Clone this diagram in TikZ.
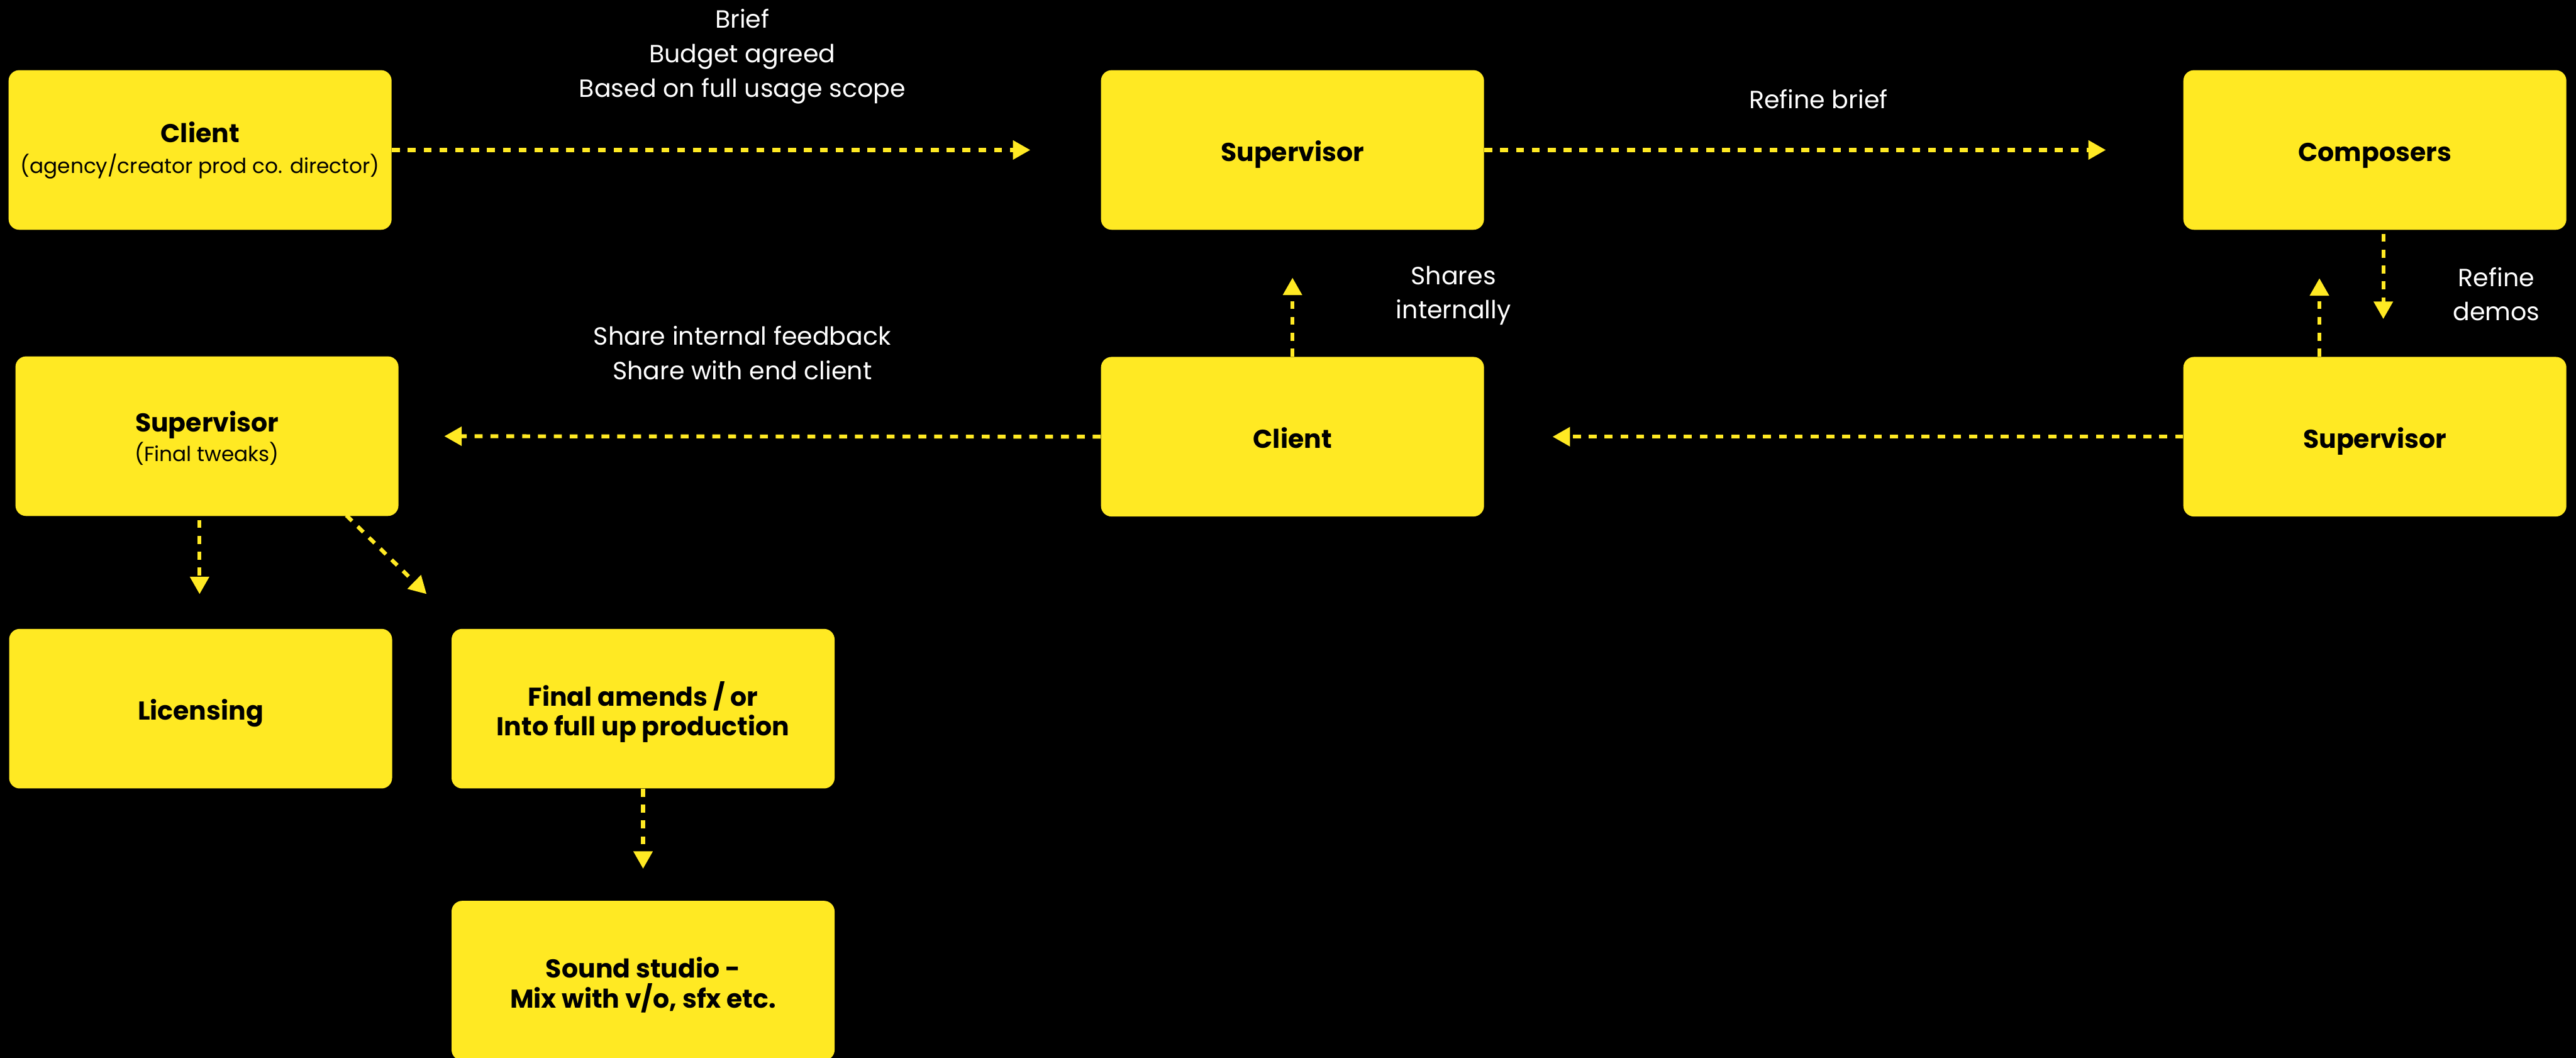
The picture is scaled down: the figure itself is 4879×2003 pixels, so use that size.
\documentclass[tikz,border=0pt]{standalone}
\usepackage{fontspec}
\setmainfont{Poppins}
\usetikzlibrary{arrows.meta}
\definecolor{ylw}{RGB}{255,233,35}
\newcommand{\subtxt}{\fontsize{11.1pt}{13pt}\selectfont\mdseries}
\newcommand{\bxl}[2]{\raisebox{#1}[\height][\depth]{\begin{tabular}{@{}c@{}}#2\end{tabular}}}
\tikzset{
  box/.style={draw=none, fill=ylw, rounded corners=0.2cm, minimum width=7.25cm, minimum height=3.02cm, inner sep=0pt, align=center, text=black, font=\fontsize{13.9pt}{16.8pt}\selectfont\bfseries},
  onel/.style={text height=12pt, text depth=0pt},
  lbl/.style={text=white, align=center, inner sep=0pt, font=\fontsize{13.4pt}{18.5pt}\selectfont},
  flow/.style={draw=ylw, line width=2.1pt, dash pattern=on 0.15cm off 0.15cm, -{Triangle[length=0.33cm, width=0.35cm]}}
}
\begin{document}
\begin{tikzpicture}[x=0.01cm, y=-0.01cm]
\fill[black] (0,0) rectangle (4879,2003);
\useasboundingbox (0,0) rectangle (4879,2003);

% boxes
\node[box] (client) at (379,284) {\bxl{-0.03cm}{Client\\[0pt]{\subtxt(agency/creator prod co. director)}}};
\node[box, onel] (sup1) at (2448,284) {Supervisor};
\node[box, onel] (comp) at (4498,284) {Composers};
\node[box] (supF) at (392,826) {\bxl{-0.08cm}{Supervisor\\[-1pt]{\subtxt(Final tweaks)}}};
\node[box, onel] (client2) at (2448,827) {Client};
\node[box, onel] (sup2) at (4498,827) {Supervisor};
\node[box, onel] (lic) at (380,1342) {Licensing};
\node[box] (final) at (1218,1342) {\bxl{-0.09cm}{Final amends / or\\[-1pt]Into full up production}};
\node[box] (sound) at (1218,1857) {\bxl{-0.11cm}{Sound studio -\\[-2pt]Mix with v/o, sfx etc.}};

% labels
\node[lbl] (l1) at (1406,107) {Brief\\Budget agreed\\Based on full usage scope};
\node[lbl] (l2) at (3444,188) {Refine brief};
\node[lbl] (l3) at (2753,560) {Shares\\internally};
\node[lbl] (l4) at (4728,557) {Refine\\demos};
\node[lbl] (l5) at (1406,668) {Share internal feedback\\Share with end client};

% connectors
\draw[flow, shorten >=1.33cm] (client.east) -- (sup1.west);
\draw[flow, shorten >=1.46cm] (sup1.east) -- (comp.west);
\draw[flow, shorten >=1.29cm] (sup2.west) -- (client2.east);
\draw[flow, shorten >=0.86cm] (client2.west) -- (supF.east);
\draw[flow, shorten >=0.90cm] (client2.north) -- (sup1.south);
\draw[flow, shorten <=0.07cm, shorten >=0.71cm] (comp.south -| 4514,0) -- (sup2.north -| 4514,0);
\draw[flow, shorten >=0.91cm] (sup2.north -| 4393,0) -- (comp.south -| 4393,0);
\draw[flow, shorten <=0.07cm, shorten >=0.65cm] (supF.south -| 378,0) -- (lic.north -| 378,0);
\coordinate (dgs) at (656,976);
\coordinate (dge) at (808,1125);
\draw[flow] (dgs) -- (dge);
\draw[flow, shorten >=0.60cm] (final.south) -- (sound.north);
\end{tikzpicture}
\end{document}
